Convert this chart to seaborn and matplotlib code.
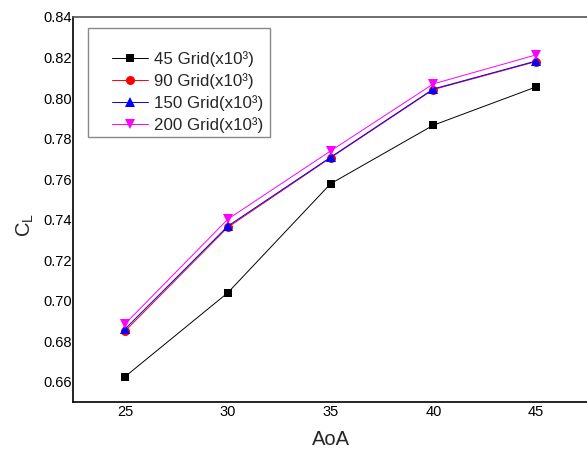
import matplotlib
matplotlib.use("Agg")
import matplotlib.pyplot as plt
from matplotlib.patches import Rectangle
import seaborn as sns
import pandas as pd

aoa = [25, 30, 35, 40, 45]
grid_45 = [0.6625, 0.7039, 0.7577, 0.7866, 0.8055]
grid_90 = [0.6850, 0.7362, 0.7705, 0.8042, 0.8180]
grid_150 = [0.6860, 0.7368, 0.7708, 0.8045, 0.8183]
grid_200 = [0.6885, 0.7402, 0.7739, 0.8070, 0.8213]
labels = ["45 Grid(x10³)", "90 Grid(x10³)", "150 Grid(x10³)", "200 Grid(x10³)"]
yticks = [0.66, 0.68, 0.70, 0.72, 0.74, 0.76, 0.78, 0.80, 0.82, 0.84]
xticks = [25, 30, 35, 40, 45]

sns.set_style("white")
plt.rcParams['font.family'] = ['Liberation Sans', 'DejaVu Sans']
plt.rcParams['mathtext.fontset'] = 'custom'
plt.rcParams['mathtext.rm'] = 'Liberation Sans'
plt.rcParams['mathtext.it'] = 'Liberation Sans:italic'
plt.rcParams['mathtext.bf'] = 'Liberation Sans:bold'

W, H = 587, 449
ax_l, ax_b, ax_w, ax_h = 73, 47, 0.88 * W, 385
fig = plt.figure(figsize=(W / 100, H / 100), dpi=100)
ax = fig.add_axes([ax_l / W, ax_b / H, ax_w / W, ax_h / H])

series = [grid_45, grid_90, grid_150, grid_200]
colors = ["black", "red", "blue", "magenta"]
markers = ["s", "o", "^", "v"]
msizes = [6, 6.5, 7, 7.5]
for vals, lab, c, m, ms in zip(series, labels, colors, markers, msizes):
    df = pd.DataFrame({"AoA": aoa, "CL": vals})
    sns.lineplot(data=df, x="AoA", y="CL", ax=ax, color=c, marker=m,
                 markersize=ms, markeredgewidth=0, linewidth=0.7,
                 label=lab)

ax.set_xlim(22.47, 47.6)
ax.set_ylim(0.65, 0.84)
ax.set_xticks(xticks)
ax.set_yticks(yticks)
ax.set_yticklabels([f"{v:.2f}" for v in yticks])
ax.tick_params(axis='both', length=0, labelsize=10.5, colors='black', pad=2)
ax.tick_params(axis='y', pad=1)

for s in ["left", "bottom"]:
    ax.spines[s].set_color("black")
    ax.spines[s].set_linewidth(1.2)
ax.spines["top"].set_color("#555555")
ax.spines["top"].set_linewidth(1.2)
ax.spines["right"].set_visible(False)

ax.set_xlabel("AoA", fontsize=14.5, labelpad=8)
ax.set_ylabel("$\\mathrm{C_L}$", fontsize=14.5)
ax.yaxis.set_label_coords(-0.072, 0.46)

def ax_x(px):
    return (px - ax_l) / ax_w
def ax_y(py):
    return (H - ax_b - py) / ax_h

leg = ax.legend(loc="upper left", bbox_to_anchor=(ax_x(112), ax_y(51)), borderaxespad=0,
                fontsize=12.2, frameon=False, handlelength=2.15,
                handletextpad=0.35, labelspacing=0.36, borderpad=0)
rect = Rectangle((ax_x(88), ax_y(137)), ax_x(270) - ax_x(88), ax_y(28) - ax_y(137),
                 transform=ax.transAxes, fill=False, edgecolor="#888888",
                 linewidth=1.0, zorder=5)
ax.add_patch(rect)

fig.savefig("out.png", dpi=100)
